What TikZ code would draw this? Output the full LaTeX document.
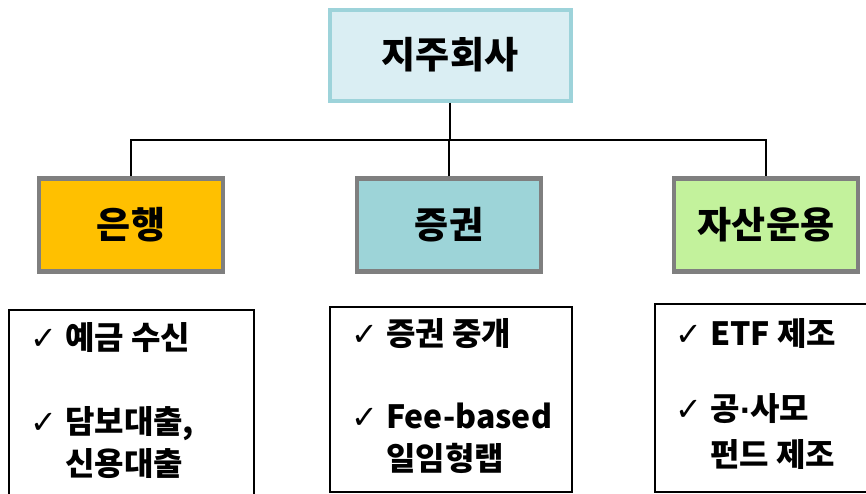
\documentclass[tikz,border=0pt]{standalone}
\usepackage{fontspec}
\setmainfont{Noto Sans CJK KR}
\newfontfamily\symfont{DejaVu Sans}
\usepackage{tikz}
\usetikzlibrary{positioning}
\definecolor{hfill}{HTML}{DAEEF3}
\definecolor{hline}{HTML}{9DD3DA}
\definecolor{bankc}{HTML}{FFC000}
\definecolor{secc}{HTML}{9DD4D8}
\definecolor{assetc}{HTML}{C3F29C}
\definecolor{gline}{HTML}{7F7F7F}
\newcommand{\chk}{\makebox[35pt][l]{\symfont\fontsize{32}{32}\selectfont ✓}}
\newcommand{\ind}{\hspace*{35pt}}
\newcommand{\mdot}{{\symfont\fontsize{28}{28}\selectfont ·}}

\begin{document}
\begin{tikzpicture}[x=1pt, y=-1pt,
  head/.style={draw=hline, line width=4pt, fill=hfill, minimum width=241pt,
               minimum height=91pt, font=\fontsize{37}{42}\selectfont\bfseries},
  unit/.style={draw=gline, line width=4.5pt, fill=#1, minimum width=184pt,
               minimum height=93pt, font=\fontsize{37}{42}\selectfont\bfseries},
  listbox/.style={draw=black, line width=1.6pt, anchor=north west, inner sep=0pt},
  item/.style={anchor=west, inner sep=0pt, font=\fontsize{32}{38}\selectfont\bfseries},
  conn/.style={draw=black, line width=1.8pt}]
  \clip (0,0) rectangle (866,493);
  \node[head] (hold) at (450,55) {지주회사};
  \node[unit=bankc] (bank) at (131,225) {은행};
  \node[unit=secc] (sec) at (449,225) {증권};
  \node[unit=assetc] (asset) at (766,225) {자산운용};
  \coordinate (bus) at (450,140);
  \draw[conn] (hold.south) -- (bus);
  \draw[conn] (bank.north) |- (bus) -| (asset.north);
  \draw[conn] (sec.north) -- (sec.north |- bus);
  % lists under each unit
  \node[listbox, minimum width=245pt, minimum height=220pt] (banklist) at (8,309) {};
  \node[listbox, minimum width=242pt, minimum height=185pt] (seclist) at (329,306) {};
  \node[listbox, minimum width=240pt, minimum height=188pt] (assetlist) at (654,303) {};
  \node[item] (bank1) at (30,338) {\chk 예금 수신};
  \node[item] (bank2) at (30,424) {\chk 담보대출,};
  \node[item] (bank3) at (30,464) {\ind 신용대출};
  \node[item] (sec1) at (351,334) {\chk 증권 중개};
  \node[item] (sec2) at (351,416) {\chk Fee-based};
  \node[item] (sec3) at (351,458) {\ind 일임형랩};
  \node[item] (asset1) at (675,333) {\chk ETF 제조};
  \node[item] (asset2) at (675,409) {\chk 공\mdot 사모};
  \node[item] (asset3) at (675,454) {\ind 펀드 제조};
\end{tikzpicture}
\end{document}
